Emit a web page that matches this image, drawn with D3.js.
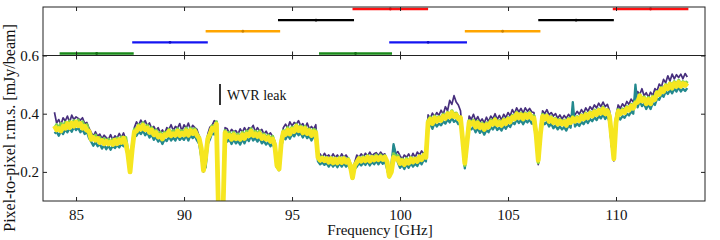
<!DOCTYPE html>
<html>
<head>
<meta charset="utf-8">
<script src="https://cdn.jsdelivr.net/npm/d3@7"></script>
<style>
  body { margin: 0; background: #fff; }
  text { font-family: "Liberation Serif", "Times New Roman", serif; fill: #111; }
</style>
</head>
<body>
<svg id="chart" width="720" height="240"></svg>
<script>
// spectral windows shown in the top strip (GHz), level = row in the strip
var spwStart = [84.24, 87.60, 91.00, 94.35, 97.80, 96.25, 99.50, 103.00, 106.40, 109.85];
var spwEnd   = [87.67, 91.10, 94.45, 97.87, 101.30, 99.63, 103.10, 106.50, 109.90, 113.35];
var spwLevel = [0, 1, 2, 3, 4, 0, 1, 2, 3, 4];
var levelColors = ["#1a8a1a", "#1414f2", "#ffa500", "#000000", "#ff1010"];

// channel grid of the rms curves
var freqStart = 84.0, freqStep = 0.1;

// pixel-to-pixel rms per channel [mJy/beam], one row per GHz (84.0 ... 113.3)
var rmsPurple = [
  .405,.368,.380,.362,.386,.375,.392,.371,.395,.380,
  .389,.384,.378,.386,.366,.370,.350,.336,.322,.338,
  .322,.330,.314,.326,.318,.312,.328,.310,.324,.316,
  .332,.318,.334,.312,.268,.196,.290,.352,.372,.360,
  .378,.366,.376,.358,.368,.350,.356,.342,.352,.334,
  .344,.330,.352,.346,.362,.342,.356,.350,.366,.340,
  .362,.350,.368,.344,.360,.352,.346,.322,.282,.200,
  .255,.330,.354,.360,.376,.370,.050,null,.050,.352,
  .348,.332,.346,.338,.342,.330,.348,.336,.352,.338,
  .352,.348,.360,.338,.352,.340,.346,.330,.340,.326,
  .334,.322,.305,.220,.205,.315,.352,.364,.350,.372,
  .358,.370,.364,.376,.358,.366,.350,.368,.348,.356,
  .346,.362,.262,.262,.250,.264,.252,.258,.248,.262,
  .250,.258,.246,.262,.250,.258,.246,.230,.176,.232,
  .258,.250,.262,.252,.264,.254,.268,.256,.262,.266,
  .256,.268,.258,.262,.230,.182,.205,.290,.262,.270,
  .256,.244,.258,.250,.262,.246,.264,.250,.268,.258,
  .272,.262,.274,.396,.384,.402,.390,.404,.394,.412,
  .398,.424,.410,.446,.432,.462,.440,.430,.410,.320,
  .215,.315,.392,.380,.398,.376,.390,.372,.382,.368,
  .388,.372,.392,.382,.400,.380,.394,.378,.398,.386,
  .404,.392,.414,.400,.420,.406,.418,.402,.420,.408,
  .418,.406,.404,.340,.225,.340,.410,.400,.414,.396,
  .404,.392,.400,.384,.396,.382,.394,.384,.398,.388,
  .404,.396,.408,.398,.414,.402,.420,.408,.424,.414,
  .430,.420,.436,.424,.440,.424,.432,.410,.325,.238,
  .392,.430,.418,.434,.424,.442,.432,.450,.440,.458,
  .476,.466,.486,.462,.472,.456,.474,.462,.486,.478,
  .502,.492,.518,.506,.530,.512,.536,.520,.534,.524,
  .536,.520,.538,.526
];

var rmsTeal = [
  .332,.338,.324,.340,.330,.346,.336,.350,.338,.354,
  .344,.352,.336,.346,.330,.338,.316,.304,.290,.302,
  .288,.296,.280,.292,.278,.290,.276,.290,.282,.292,
  .284,.296,.288,.296,.250,.205,.265,.322,.324,.338,
  .330,.342,.326,.336,.318,.328,.310,.320,.304,.312,
  .296,.312,.306,.322,.308,.318,.308,.324,.310,.318,
  .310,.326,.308,.326,.316,.324,.308,.296,.250,.208,
  .215,.296,.312,.334,.328,.348,.050,null,.050,.318,
  .304,.312,.296,.312,.298,.306,.294,.312,.298,.316,
  .306,.324,.308,.316,.304,.316,.298,.306,.294,.302,
  .288,.298,.278,.215,.212,.286,.318,.312,.328,.314,
  .330,.322,.338,.326,.334,.318,.332,.316,.324,.308,
  .322,.318,.236,.226,.232,.224,.230,.218,.230,.218,
  .228,.216,.230,.218,.230,.218,.226,.208,.178,.210,
  .218,.230,.222,.232,.224,.236,.222,.234,.226,.238,
  .226,.238,.228,.236,.210,.182,.226,.295,.262,.232,
  .214,.224,.210,.226,.214,.230,.218,.228,.220,.236,
  .226,.242,.236,.352,.364,.348,.368,.356,.366,.360,
  .374,.366,.380,.370,.386,.372,.378,.364,.366,.296,
  .212,.286,.352,.346,.354,.336,.350,.334,.344,.328,
  .344,.336,.354,.346,.360,.344,.352,.342,.358,.348,
  .362,.354,.370,.364,.380,.368,.378,.364,.378,.370,
  .380,.366,.367,.318,.232,.318,.373,.364,.372,.356,
  .366,.350,.360,.346,.356,.346,.354,.342,.360,.352,
  .440,.356,.366,.358,.372,.364,.378,.368,.382,.374,
  .388,.378,.392,.384,.398,.382,.392,.372,.290,.248,
  .372,.390,.380,.392,.386,.400,.394,.408,.400,.500,
  .422,.444,.426,.434,.416,.432,.416,.436,.430,.452,
  .448,.466,.458,.476,.468,.482,.470,.486,.476,.490,
  .476,.486,.478,.488
];

var rmsGreen = [
  .350,.362,.348,.366,.352,.370,.356,.374,.360,.376,
  .366,.378,.360,.372,.352,.362,.336,.328,.312,.326,
  .306,.318,.302,.314,.300,.312,.298,.312,.304,.316,
  .306,.320,.312,.318,.266,.198,.284,.346,.348,.362,
  .354,.368,.350,.360,.342,.352,.334,.344,.328,.336,
  .320,.336,.330,.346,.332,.342,.332,.348,.334,.342,
  .334,.350,.332,.350,.340,.348,.332,.320,.272,.204,
  .238,.320,.336,.358,.352,.372,.050,null,.050,.342,
  .328,.336,.320,.336,.322,.330,.318,.336,.322,.340,
  .330,.348,.332,.340,.328,.340,.322,.330,.318,.326,
  .312,.322,.298,.220,.208,.306,.342,.336,.352,.338,
  .354,.346,.362,.350,.358,.342,.356,.340,.348,.332,
  .346,.342,.256,.246,.252,.244,.250,.238,.250,.238,
  .248,.236,.250,.238,.250,.238,.246,.225,.178,.226,
  .238,.250,.242,.252,.244,.256,.242,.254,.246,.258,
  .246,.258,.248,.256,.226,.183,.202,.262,.252,.256,
  .234,.244,.230,.246,.234,.250,.238,.248,.240,.256,
  .246,.262,.256,.378,.388,.372,.392,.380,.390,.384,
  .398,.390,.404,.394,.410,.396,.402,.388,.388,.315,
  .222,.308,.376,.370,.378,.360,.374,.358,.368,.352,
  .368,.360,.378,.370,.384,.368,.376,.366,.382,.372,
  .386,.378,.394,.388,.404,.392,.402,.388,.402,.394,
  .404,.390,.393,.334,.232,.336,.398,.388,.396,.380,
  .390,.374,.384,.370,.380,.370,.378,.366,.384,.376,
  .390,.380,.390,.382,.396,.388,.402,.392,.406,.398,
  .412,.402,.416,.408,.422,.406,.414,.398,.310,.244,
  .380,.414,.404,.416,.410,.424,.418,.432,.424,.442,
  .446,.466,.450,.458,.440,.456,.440,.460,.456,.476,
  .472,.490,.482,.500,.492,.506,.494,.510,.500,.514,
  .500,.510,.502,.512
];

var rmsYellow = [
  .358,.344,.349,.341,.357,.350,.366,.352,.368,.357,
  .371,.359,.366,.350,.357,.343,.340,.312,.318,.309,
  .315,.301,.308,.297,.305,.296,.303,.294,.309,.297,
  .310,.301,.316,.298,.262,.200,.278,.338,.340,.355,
  .347,.360,.345,.351,.336,.344,.328,.335,.320,.326,
  .313,.328,.325,.339,.324,.331,.326,.340,.325,.333,
  .327,.341,.326,.342,.332,.340,.325,.315,.280,.205,
  .250,.314,.329,.350,.345,.364,.050,null,.050,.335,
  .321,.326,.312,.328,.314,.321,.312,.328,.315,.330,
  .324,.340,.325,.331,.322,.331,.315,.322,.312,.318,
  .305,.313,.292,.222,.210,.300,.336,.329,.344,.330,
  .346,.339,.356,.342,.351,.334,.349,.332,.341,.325,
  .338,.335,.250,.240,.247,.239,.245,.233,.245,.231,
  .243,.231,.244,.232,.245,.233,.240,.220,.180,.222,
  .233,.245,.237,.246,.238,.250,.237,.249,.241,.251,
  .242,.251,.243,.251,.235,.185,.200,.250,.244,.246,
  .229,.238,.225,.239,.230,.244,.234,.243,.236,.251,
  .242,.256,.250,.370,.381,.366,.385,.374,.384,.377,
  .391,.384,.399,.389,.404,.390,.396,.382,.386,.310,
  .230,.300,.371,.364,.371,.354,.368,.352,.361,.346,
  .362,.354,.371,.364,.378,.362,.370,.360,.376,.366,
  .381,.372,.388,.382,.399,.386,.396,.382,.396,.387,
  .398,.384,.385,.330,.240,.330,.391,.382,.391,.374,
  .384,.369,.378,.364,.374,.364,.372,.360,.378,.369,
  .384,.374,.384,.376,.391,.382,.396,.386,.401,.392,
  .406,.397,.411,.402,.416,.400,.410,.390,.320,.245,
  .370,.408,.399,.409,.404,.418,.412,.426,.419,.436,
  .439,.461,.444,.451,.434,.449,.434,.454,.449,.471,
  .466,.484,.476,.494,.486,.501,.488,.504,.494,.508,
  .494,.504,.497,.506
];

var seriesList = [
  { values: rmsPurple, color: "#472f7d", width: 1.7 },
  { values: rmsTeal,   color: "#23898e", width: 2.3 },
  { values: rmsGreen,  color: "#7ad151", width: 3.2 },
  { values: rmsYellow, color: "#f6e620", width: 4.8 }
];

var xTicks = [85, 90, 95, 100, 105, 110];
var yTicks = [0.2, 0.4, 0.6];

var left = 43, right = 705, topY = 7, midY = 55.5, bottomY = 201;

var svg = d3.select("#chart");

var x = d3.scaleLinear().domain([83.47, 114.12]).range([left, right]);
var yStrip = d3.scaleLinear().domain([-0.18, 4.18]).range([midY, topY]);
var y = d3.scaleLinear().domain([0.1, 0.6]).range([bottomY, midY]);

svg.append("clipPath").attr("id", "clipMain")
  .append("rect")
  .attr("x", left).attr("y", midY)
  .attr("width", right - left).attr("height", bottomY - midY);

// top strip: spectral windows
var spw = spwStart.map(function(s, i) {
  return { start: s, end: spwEnd[i], level: spwLevel[i] };
});

svg.append("g").selectAll("line")
  .data(spw).enter()
  .append("line")
  .attr("x1", function(d) { return x(d.start); })
  .attr("x2", function(d) { return x(d.end); })
  .attr("y1", function(d) { return yStrip(d.level); })
  .attr("y2", function(d) { return yStrip(d.level); })
  .attr("stroke", function(d) { return levelColors[d.level]; })
  .attr("stroke-width", 2.4);

svg.append("g").selectAll("circle")
  .data(spw).enter()
  .append("circle")
  .attr("cx", function(d) { return x((d.start + d.end) / 2); })
  .attr("cy", function(d) { return yStrip(d.level); })
  .attr("r", 1.4)
  .attr("fill", function(d) { return d3.color(levelColors[d.level]).darker(0.6); });

// main panel: rms curves
var line = d3.line()
  .defined(function(d) { return d != null; })
  .x(function(d, i) { return x(freqStart + i * freqStep); })
  .y(function(d) { return y(d); });

var curves = svg.append("g").attr("clip-path", "url(#clipMain)");
seriesList.forEach(function(s) {
  curves.append("path")
    .datum(s.values)
    .attr("d", line)
    .attr("fill", "none")
    .attr("stroke", s.color)
    .attr("stroke-width", s.width)
    .attr("stroke-linejoin", "round");
});

// annotation
svg.append("line")
  .attr("x1", 220).attr("x2", 220)
  .attr("y1", 84).attr("y2", 105)
  .attr("stroke", "#000").attr("stroke-width", 1.6);
svg.append("text")
  .attr("x", 227).attr("y", 99.5)
  .style("font-size", "14px")
  .text("WVR leak");

// axes, ticks pointing inward
function styleAxis(g) {
  g.select(".domain").remove();
  g.selectAll(".tick line").attr("stroke", "#222");
  g.selectAll(".tick text").style("font-size", "15px")
    .style("font-family", "'Liberation Serif', serif").attr("fill", "#111");
}

svg.append("g").attr("transform", "translate(0," + bottomY + ")")
  .call(d3.axisBottom(x).tickValues(xTicks).tickSizeInner(-4).tickSizeOuter(0).tickPadding(8))
  .call(styleAxis);
svg.append("g").attr("transform", "translate(0," + midY + ")")
  .call(d3.axisTop(x).tickValues(xTicks).tickSizeInner(-4).tickSizeOuter(0).tickFormat(""))
  .call(styleAxis);
svg.append("g").attr("transform", "translate(0," + midY + ")")
  .call(d3.axisBottom(x).tickValues(xTicks).tickSizeInner(-4).tickSizeOuter(0).tickFormat(""))
  .call(styleAxis);
svg.append("g").attr("transform", "translate(0," + topY + ")")
  .call(d3.axisTop(x).tickValues(xTicks).tickSizeInner(-4).tickSizeOuter(0).tickFormat(""))
  .call(styleAxis);
svg.append("g").attr("transform", "translate(" + left + ",0)")
  .call(d3.axisLeft(y).tickValues(yTicks).tickSizeInner(-4).tickSizeOuter(0).tickPadding(4).tickFormat(d3.format(".1f")))
  .call(styleAxis);
svg.append("g").attr("transform", "translate(" + right + ",0)")
  .call(d3.axisRight(y).tickValues(yTicks).tickSizeInner(-4).tickSizeOuter(0).tickFormat(""))
  .call(styleAxis);

// panel frames
svg.append("rect")
  .attr("x", left).attr("y", topY)
  .attr("width", right - left).attr("height", midY - topY)
  .attr("fill", "none").attr("stroke", "#222").attr("stroke-width", 1);
svg.append("rect")
  .attr("x", left).attr("y", midY)
  .attr("width", right - left).attr("height", bottomY - midY)
  .attr("fill", "none").attr("stroke", "#222").attr("stroke-width", 1);

// axis titles
svg.append("text")
  .attr("x", (left + right) / 2 + 6).attr("y", 235)
  .attr("text-anchor", "middle")
  .style("font-size", "15px")
  .text("Frequency [GHz]");
svg.append("text")
  .attr("transform", "translate(15,128) rotate(-90)")
  .attr("text-anchor", "middle")
  .style("font-size", "16px")
  .text("Pixel-to-pixel r.m.s. [mJy/beam]");
</script>
</body>
</html>
